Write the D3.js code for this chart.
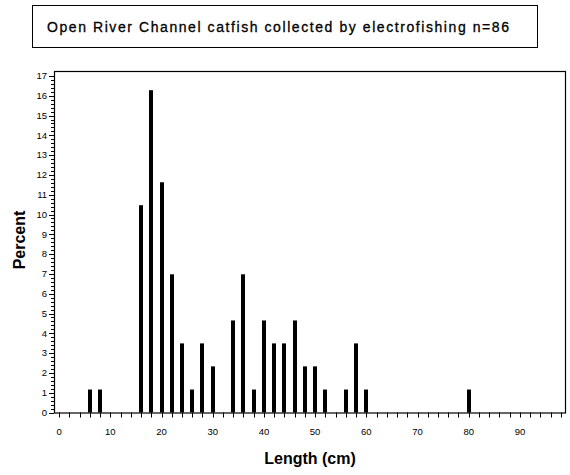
<!DOCTYPE html>
<html>
<head>
<meta charset="utf-8">
<script src="https://cdn.jsdelivr.net/npm/d3@7"></script>
<style>
  body { margin: 0; background: #fff; }
  text { font-family: "Liberation Sans", Arial, sans-serif; fill: #000; }
</style>
</head>
<body>
<svg id="chart" width="570" height="475"></svg>
<script>
// midpoints of 2 cm length classes and percent of the n=86 fish
var lengthMid = [6, 8, 16, 18, 20, 22, 24, 26, 28, 30, 34, 36, 38, 40, 42, 44, 46, 48, 50, 52, 56, 58, 60, 80];
var percent = [1.16, 1.16, 10.47, 16.28, 11.63, 6.98, 3.49, 1.16, 3.49, 2.33, 4.65, 6.98, 1.16, 4.65, 3.49, 3.49, 4.65, 2.33, 2.33, 1.16, 1.16, 3.49, 1.16, 1.16];

var xTicks = d3.range(0, 100, 2);
var xLabels = d3.range(0, 100, 10);
var yTicks = d3.range(0, 18, 1);
var yMinor = d3.range(0, 17.01, 0.2);

var titleText = "Open River Channel catfish collected by electrofishing n=86";

var svg = d3.select("#chart");

var plotLeft = 54, plotRight = 566, plotTop = 71, plotBottom = 412.5;

var x = d3.scaleLinear().domain([-1, 99]).range([plotLeft, plotRight]);
var y = d3.scaleLinear().domain([0, 17.25]).range([plotBottom, plotTop]);

// title box
svg.append("rect")
    .attr("x", 32.5).attr("y", 5.5)
    .attr("width", 505).attr("height", 42)
    .attr("fill", "none").attr("stroke", "#000").attr("stroke-width", 1);

svg.append("text")
    .attr("x", 47).attr("y", 32)
    .attr("font-size", 14)
    .attr("stroke", "#000").attr("stroke-width", 0.3)
    .attr("textLength", 462)
    .attr("lengthAdjust", "spacing")
    .text(titleText);

// bars
svg.append("g").selectAll("rect")
    .data(lengthMid)
    .enter().append("rect")
    .attr("x", function(d) { return Math.round(x(d)) - 2; })
    .attr("width", 4)
    .attr("y", function(d, i) { return y(percent[i]); })
    .attr("height", function(d, i) { return y(0) - y(percent[i]); })
    .attr("fill", "#000");

// frame
svg.append("rect")
    .attr("x", plotLeft + 0.5).attr("y", plotTop + 0.5)
    .attr("width", plotRight - plotLeft - 1).attr("height", plotBottom - plotTop)
    .attr("fill", "none").attr("stroke", "#000").attr("stroke-width", 1.2);

// x ticks
var gx = svg.append("g");
gx.selectAll("line")
    .data(xTicks)
    .enter().append("line")
    .attr("x1", function(d) { return Math.round(x(d)) + 0.5; })
    .attr("x2", function(d) { return Math.round(x(d)) + 0.5; })
    .attr("y1", plotBottom).attr("y2", plotBottom + 5)
    .attr("stroke", "#000");

gx.selectAll("text")
    .data(xLabels)
    .enter().append("text")
    .attr("x", function(d) { return x(d); })
    .attr("y", 435)
    .attr("font-size", 9.5)
    .attr("text-anchor", "middle")
    .text(function(d) { return d; });

// y ticks
var gy = svg.append("g");
gy.selectAll("line.minor")
    .data(yMinor)
    .enter().append("line")
    .attr("class", "minor")
    .attr("x1", plotLeft - 3).attr("x2", plotLeft)
    .attr("y1", function(d) { return Math.round(y(d)) + 0.5; })
    .attr("y2", function(d) { return Math.round(y(d)) + 0.5; })
    .attr("stroke", "#000");

gy.selectAll("line.major")
    .data(yTicks)
    .enter().append("line")
    .attr("class", "major")
    .attr("x1", plotLeft - 5).attr("x2", plotLeft)
    .attr("y1", function(d) { return Math.round(y(d)) + 0.5; })
    .attr("y2", function(d) { return Math.round(y(d)) + 0.5; })
    .attr("stroke", "#000");

gy.selectAll("text")
    .data(yTicks)
    .enter().append("text")
    .attr("x", plotLeft - 7)
    .attr("y", function(d) { return y(d); })
    .attr("dy", "0.35em")
    .attr("font-size", 9.5)
    .attr("text-anchor", "end")
    .text(function(d) { return d; });

// axis labels
svg.append("text")
    .attr("x", 310).attr("y", 464)
    .attr("font-size", 16)
    .attr("font-weight", "bold")
    .attr("text-anchor", "middle")
    .text("Length (cm)");

svg.append("text")
    .attr("transform", "translate(25,240) rotate(-90)")
    .attr("font-size", 16)
    .attr("font-weight", "bold")
    .attr("text-anchor", "middle")
    .text("Percent");
</script>
</body>
</html>
